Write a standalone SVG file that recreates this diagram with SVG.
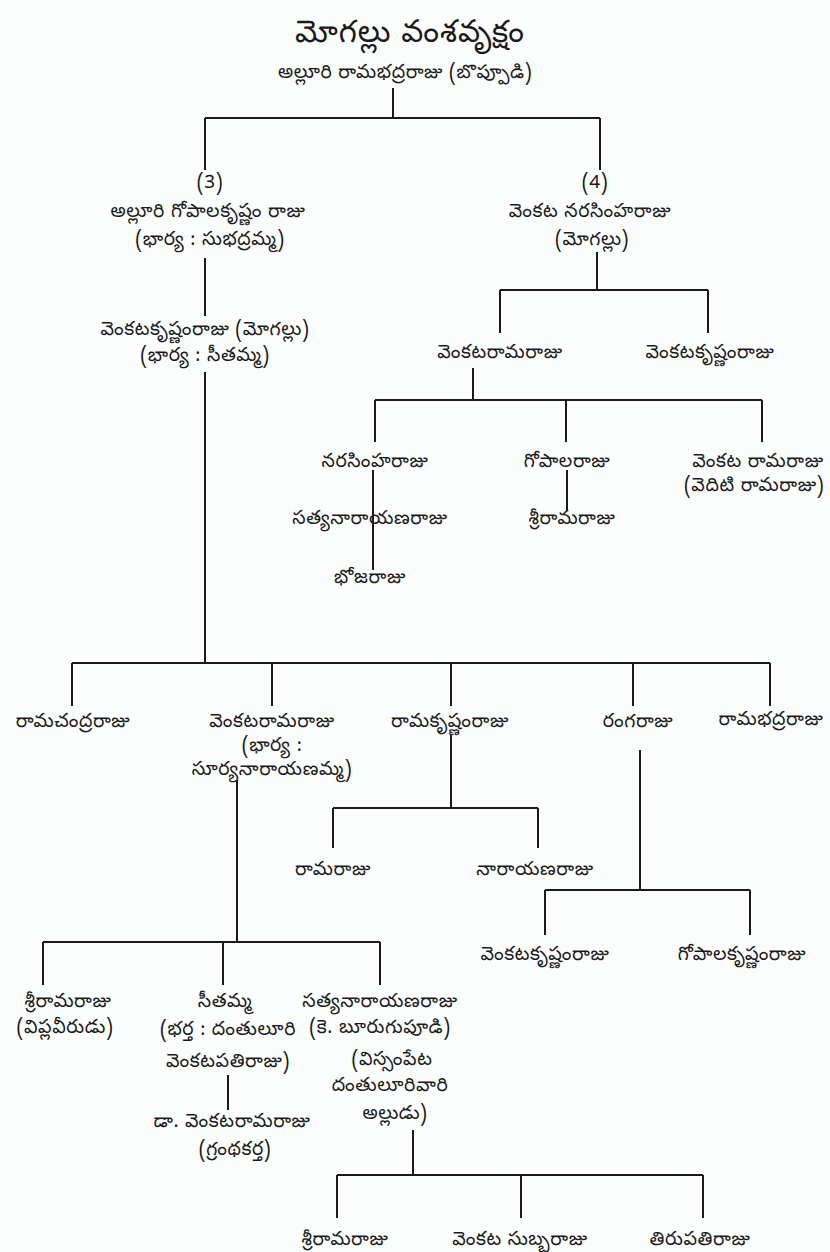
<svg xmlns="http://www.w3.org/2000/svg" width="830" height="1252" viewBox="0 0 830 1252">
<style>
text{font-family:"Noto Sans Telugu","Noto Sans","DejaVu Sans",sans-serif;font-size:19px;letter-spacing:0.6px;fill:#1a1a1a;text-anchor:middle}
.title{font-size:31px;letter-spacing:1px}
.lines path{stroke:#1a1a1a;stroke-width:2;fill:none}
</style>
<rect width="830" height="1252" fill="#fbfdfd"/>
<g class="lines">
<path d="M393 88V118M205 118H600M205 118V170M600 118V170"/>
<path d="M205 258V316"/>
<path d="M205 372V663"/>
<path d="M597 252V290M500 290H708M500 290V333M708 290V333"/>
<path d="M473 368V400M375 400H762M375 400V442M566 400V442M762 400V442"/>
<path d="M373 470V570"/>
<path d="M567 470V510"/>
<path d="M72 663H770M72 663V706M272 663V706M451 663V706M633 663V706M770 663V706"/>
<path d="M451 735V808M333 808H538M333 808V848M538 808V848"/>
<path d="M640 750V890M545 890H750M545 890V935M750 890V935"/>
<path d="M237 780V942M43 942H380M43 942V985M223 942V985M380 942V985"/>
<path d="M228 1075V1110"/>
<path d="M413 1130V1175M337 1175H703M337 1175V1218M521 1175V1218M703 1175V1218"/>
</g>
<g id="title"><text class="title" x="410" y="42">మోగల్లు వంశవృక్షం</text></g>
<g id="n-root"><text x="405" y="78">అల్లూరి రామభద్రరాజు (బొప్పూడి)</text></g>
<g id="n3"><text x="210" y="188">(3)</text><text x="208" y="217">అల్లూరి గోపాలకృష్ణం రాజు</text><text x="210" y="245">(భార్య : సుభద్రమ్మ)</text></g>
<g id="n4"><text x="595" y="188">(4)</text><text x="590" y="217">వెంకట నరసింహరాజు</text><text x="592" y="245">(మోగల్లు)</text></g>
<g id="n-vkr-left"><text x="205" y="335">వెంకటకృష్ణంరాజు (మోగల్లు)</text><text x="205" y="361">(భార్య : సీతమ్మ)</text></g>
<g id="n-vrr-right"><text x="500" y="358">వెంకటరామరాజు</text></g>
<g id="n-vkr-right"><text x="710" y="358">వెంకటకృష్ణంరాజు</text></g>
<g id="n-narasimha"><text x="375" y="467">నరసింహరాజు</text></g>
<g id="n-gopala"><text x="567" y="467">గోపాలరాజు</text></g>
<g id="n-vedithi"><text x="758" y="467">వెంకట రామరాజు</text><text x="754" y="491">(వెదిటి రామరాజు)</text></g>
<g id="n-satya1"><text x="370" y="524">సత్యనారాయణరాజు</text></g>
<g id="n-sriram1"><text x="572" y="524">శ్రీరామరాజు</text></g>
<g id="n-bhoja"><text x="370" y="583">భోజరాజు</text></g>
<g id="n-ramachandra"><text x="73" y="727">రామచంద్రరాజు</text></g>
<g id="n-vrr-left"><text x="272" y="727">వెంకటరామరాజు</text><text x="272" y="751">(భార్య :</text><text x="272" y="775">సూర్యనారాయణమ్మ)</text></g>
<g id="n-ramakrishna"><text x="450" y="727">రామకృష్ణంరాజు</text></g>
<g id="n-ranga"><text x="638" y="727">రంగరాజు</text></g>
<g id="n-ramabhadra"><text x="771" y="725">రామభద్రరాజు</text></g>
<g id="n-rama"><text x="333" y="875">రామరాజు</text></g>
<g id="n-narayana"><text x="535" y="875">నారాయణరాజు</text></g>
<g id="n-vkr3"><text x="545" y="960">వెంకటకృష్ణంరాజు</text></g>
<g id="n-gk"><text x="742" y="960">గోపాలకృష్ణంరాజు</text></g>
<g id="n-sriram2"><text x="68" y="1007">శ్రీరామరాజు</text><text x="65" y="1033">(విప్లవీరుడు)</text></g>
<g id="n-seetha"><text x="225" y="1007">సీతమ్మ</text><text x="228" y="1035">(భర్త : దంతులూరి</text><text x="228" y="1067">వెంకటపతిరాజు)</text></g>
<g id="n-dr"><text x="232" y="1127">డా. వెంకటరామరాజు</text><text x="235" y="1155">(గ్రంథకర్త)</text></g>
<g id="n-satya2"><text x="380" y="1007">సత్యనారాయణరాజు</text><text x="380" y="1033">(కె. బూరుగుపూడి)</text><text x="392" y="1065">(విస్సంపేట</text><text x="390" y="1091">దంతులూరివారి</text><text x="395" y="1119">అల్లుడు)</text></g>
<g id="n-sriram3"><text x="345" y="1245">శ్రీరామరాజు</text></g>
<g id="n-subba"><text x="520" y="1245">వెంకట సుబ్బరాజు</text></g>
<g id="n-tirupati"><text x="700" y="1245">తిరుపతిరాజు</text></g>
</svg>
